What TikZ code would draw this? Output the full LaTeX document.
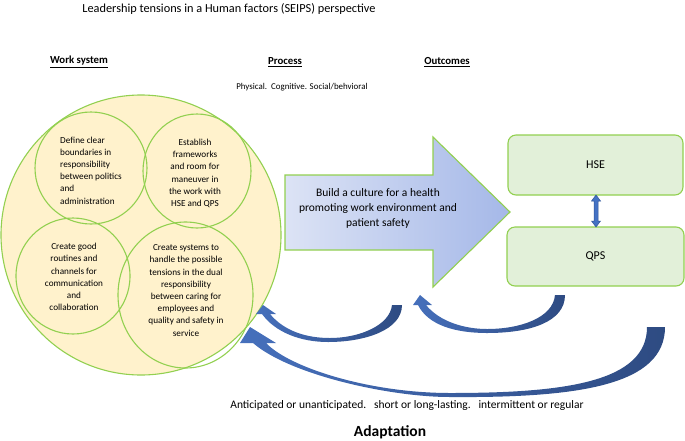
\documentclass[tikz,border=0pt]{standalone}
\usepackage{fontspec}
\setmainfont{Carlito}
\usetikzlibrary{shapes.geometric}
\definecolor{cfill}{HTML}{FFF2CC}
\definecolor{cgreen}{HTML}{92D050}
\definecolor{bfill}{HTML}{E2F0D9}
\definecolor{adark}{HTML}{2E4B82}
\definecolor{alight}{HTML}{4670BC}
\definecolor{plight}{HTML}{DCE3F5}
\definecolor{pdark}{HTML}{A5B8E8}
\definecolor{dblfill}{HTML}{4472C4}
\definecolor{dblline}{HTML}{2F5597}
\begin{document}
\begin{tikzpicture}[x=1pt,y=-1pt,
  ring/.style={ellipse, draw=cgreen, line width=1.1pt, inner sep=0pt},
  ctext/.style={font=\fontsize{9.2}{12.2}\selectfont, align=center, inner sep=0pt},
  headtxt/.style={font=\fontsize{10.8}{13}\selectfont\bfseries, inner sep=0pt},
  outbox/.style={draw=cgreen, fill=bfill, line width=1.1pt, rounded corners=8pt, inner sep=0pt},
  bendarrow/.style={left color=alight, right color=adark, draw=none}]
\path[use as bounding box] (0,0) rectangle (685,440);

% title and headings
\node[font=\fontsize{12.3}{14}\selectfont, inner sep=0pt] (title) at (229,9) {Leadership tensions in a Human factors (SEIPS) perspective};
\node[headtxt] (hws) at (79,62) {\underline{Work system}};
\node[headtxt] (hpr) at (285,62) {\underline{Process}};
\node[headtxt] (hout) at (447,62) {\underline{Outcomes}};
\node[font=\fontsize{8.9}{11}\selectfont, inner sep=0pt] (phys) at (302,87) {Physical.\ \ Cognitive. Social/behvioral};

% work system
\node[ring, fill=cfill, minimum width=280pt, minimum height=280pt] (big) at (141,235) {};
\node[ring, minimum width=112pt, minimum height=112pt] (c1) at (91,168) {};
\node[ring, minimum width=108pt, minimum height=114pt] (c2) at (197,171) {};
\node[ring, minimum width=114pt, minimum height=116pt] (c3) at (73,276) {};
\node[ring, minimum width=135pt, minimum height=146pt] (c4) at (185.5,295) {};

\node[ctext, align=left] (t1) at (91,170.5) {Define clear\\boundaries in\\responsibility\\between politics\\and\\administration};
\node[ctext] (t2) at (195,173.5) {Establish\\frameworks\\and room for\\maneuver in\\the work with\\HSE and QPS};
\node[ctext] (t3) at (74,277) {Create good\\routines and\\channels for\\communication\\and\\collaboration};
\node[ctext] (t4) at (186,290.5) {Create systems to\\handle the possible\\tensions in the dual\\responsibility\\between caring for\\employees and\\quality and safety in\\service};

% process arrow
\path[left color=plight, right color=pdark, draw=cgreen, line width=1.1pt]
  (285,175) -- (433,175) -- (433,137) -- (510,212) -- (433,287) -- (433,250) -- (285,250) -- cycle;
\node[font=\fontsize{11.5}{15}\selectfont, align=center, inner sep=0pt] (proc) at (378,208) {Build a culture for a health\\promoting work environment and\\patient safety};

% outcomes
\node[outbox, minimum width=175pt, minimum height=60pt] (hse) at (595.5,165) {};
\node[outbox, minimum width=177pt, minimum height=59pt] (qps) at (595.5,256.5) {};
\node[font=\fontsize{12}{14}\selectfont, inner sep=0pt] at (hse) {HSE};
\node[font=\fontsize{12}{14}\selectfont, inner sep=0pt] at (qps) {QPS};

% double arrow between HSE and QPS
\coordinate (dt) at (596,195);
\coordinate (db) at (596,227);
\path[fill=dblfill, draw=dblline, line width=0.5pt]
  (dt) -- ++(4.5,6) -- ++(-2.5,0) -- ++(0,20) -- ++(2.5,0) -- (db)
  -- ++(-4.5,-6) -- ++(2.5,0) -- ++(0,-20) -- ++(-2.5,0) -- cycle;

% curved adaptation arrows
\path[bendarrow]
  (256,314) -- (263,305) -- (276,314) -- (270,314)
  .. controls (285,332) and (308,338) .. (330,338)
  .. controls (360,338) and (390,325) .. (392,305) -- (402,305)
  .. controls (402,330) and (365,342) .. (328,342)
  .. controls (300,342) and (275,332) .. (262,314) -- cycle;
\path[bendarrow]
  (413,305) -- (420,295) -- (432,305) -- (426,305)
  .. controls (440,322) and (465,329) .. (487,329)
  .. controls (520,329) and (553,318) .. (555,295) -- (565,295)
  .. controls (565,322) and (530,333) .. (487,333)
  .. controls (455,333) and (428,325) .. (418,305) -- cycle;
\path[bendarrow]
  (240,343) -- (250,327) -- (276,343) -- (266,343)
  .. controls (290,368) and (370,393) .. (450,393)
  .. controls (565,393) and (647,382) .. (647,327) -- (665,327)
  .. controls (665,385) and (580,398) .. (450,397)
  .. controls (390,397) and (290,375) .. (253,343) -- cycle;

% adaptation text
\node[font=\fontsize{11.5}{13}\selectfont, inner sep=0pt] (ant) at (407,405) {Anticipated or unanticipated.\ \ \ short or long-lasting.\ \ \ intermittent or regular};
\node[font=\fontsize{15.5}{18}\selectfont\bfseries, inner sep=0pt] (adapt) at (390,432) {Adaptation};
\end{tikzpicture}
\end{document}
